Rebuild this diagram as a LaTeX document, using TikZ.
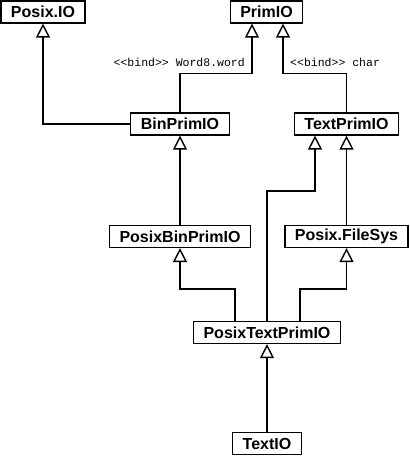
\documentclass[tikz,border=0pt]{standalone}
\usepackage{fontspec}
\setmainfont{Liberation Sans}
\newfontfamily\bindfont{Liberation Mono}
\usetikzlibrary{arrows.meta}
\tikzset{
  cls/.style={draw, line width=1.2pt, fill=white, inner xsep=10pt, minimum height=22pt,
    font=\bfseries\fontsize{16}{16}\selectfont},
  inh/.style={-{Triangle[open, length=14pt, width=14pt]}, line width=1.4pt},
  bind/.style={font=\bindfont\fontsize{11.5}{12}\selectfont, inner sep=0pt}
}
\begin{document}
\begin{tikzpicture}[x=1pt,y=1pt]
\useasboundingbox (0,0) rectangle (410,-456);
\node[cls] (PosixIO) at (43,-12) {Posix.IO};
\node[cls] (PrimIO) at (266.5,-12) {PrimIO};
\node[cls] (BinPrimIO) at (180,-124) {BinPrimIO};
\node[cls] (TextPrimIO) at (346.5,-124) {TextPrimIO};
\node[cls] (PosixBinPrimIO) at (180,-236.5) {PosixBinPrimIO};
\node[cls] (PosixFileSys) at (346.5,-236.5) {Posix.FileSys};
\node[cls] (PosixTextPrimIO) at (267,-332.5) {PosixTextPrimIO};
\node[cls] (TextIO) at (267,-443.5) {TextIO};

\node[bind, anchor=east] (bind-word) at (245,-62) {\string<\string<bind\string>\string> Word8.word};
\node[bind, anchor=west] (bind-char) at (290,-62) {\string<\string<bind\string>\string> char};

\draw[inh] (BinPrimIO.west) -| (PosixIO.south);
\draw[inh] (BinPrimIO.north) -- ++(0,39) -| ([xshift=-14.5pt]PrimIO.south);
\draw[inh] (TextPrimIO.north) -- ++(0,39) -| ([xshift=16.5pt]PrimIO.south);
\draw[inh] (PosixBinPrimIO) -- (BinPrimIO);
\draw[inh] (PosixFileSys) -- (TextPrimIO);
\draw[inh] (PosixTextPrimIO.north) -- ++(0,130) -| ([xshift=-31.5pt]TextPrimIO.south);
\draw[inh] ([xshift=-32pt]PosixTextPrimIO.north) -- ++(0,32) -| (PosixBinPrimIO.south);
\draw[inh] ([xshift=33pt]PosixTextPrimIO.north) -- ++(0,32) -| (PosixFileSys.south);
\draw[inh] (TextIO) -- (PosixTextPrimIO);
\end{tikzpicture}
\end{document}
